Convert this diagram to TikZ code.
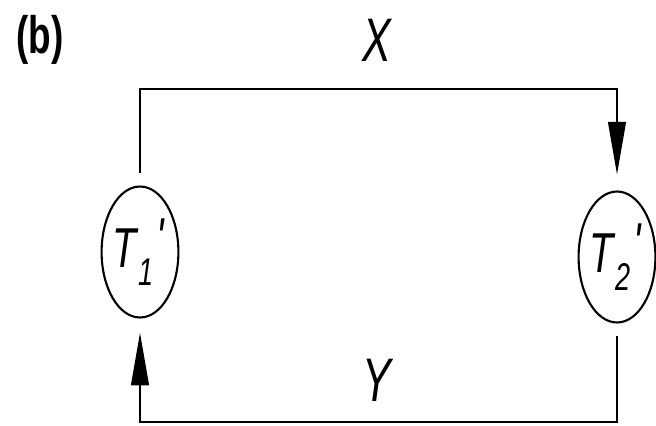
\documentclass[tikz,border=0pt]{standalone}
\usepackage{fontspec}
\setmainfont{Liberation Sans}
\newfontfamily\labelfont[FakeStretch=0.7]{Liberation Sans}
\usetikzlibrary{shapes.geometric,arrows.meta}
% state label with subscript and prime
\newcommand{\tstate}[1]{{\labelfont\itshape\fontsize{32}{36}\selectfont T\kern0.02em\raisebox{-0.32em}{\fontsize{22}{24}\selectfont #1}\kern0.06em\raisebox{0.18em}{\textquotesingle}}}
\tikzset{
  state/.style={ellipse, draw, line width=1.2pt, minimum width=1.44cm, minimum height=2.62cm, inner sep=0pt},
  flow/.style={line width=1.4pt, -{Triangle[length=30pt,width=10pt]}},
  tag/.style={font=\labelfont\itshape\fontsize{35}{40}\selectfont}
}

\begin{document}
\begin{tikzpicture}[x=0.02cm,y=-0.02cm]
    \useasboundingbox (0,0) rectangle (656,426);
    % Define points
    \coordinate (xtop) at (377,89);
    \coordinate (ybot) at (377,422);
    % States
    \node[state] (T1) at (140,252) {\tstate{1}};
    \node[state] (T2) at (617,257) {\tstate{2}};
    % Panel tag
    \node[font=\labelfont\bfseries\fontsize{30}{34}\selectfont] (panel) at (40,40) {(b)};
    % Upper path
    \draw[flow, shorten <=7pt, shorten >=9pt] (T1.north) |- (xtop) -| (T2.north);
    \node[tag] (xlab) at (377,40) {X};
    % Lower path
    \draw[flow, shorten <=7pt, shorten >=8pt] (T2.south) |- (ybot) -| (T1.south);
    \node[tag] (ylab) at (377,380) {Y};
\end{tikzpicture}
\end{document}
